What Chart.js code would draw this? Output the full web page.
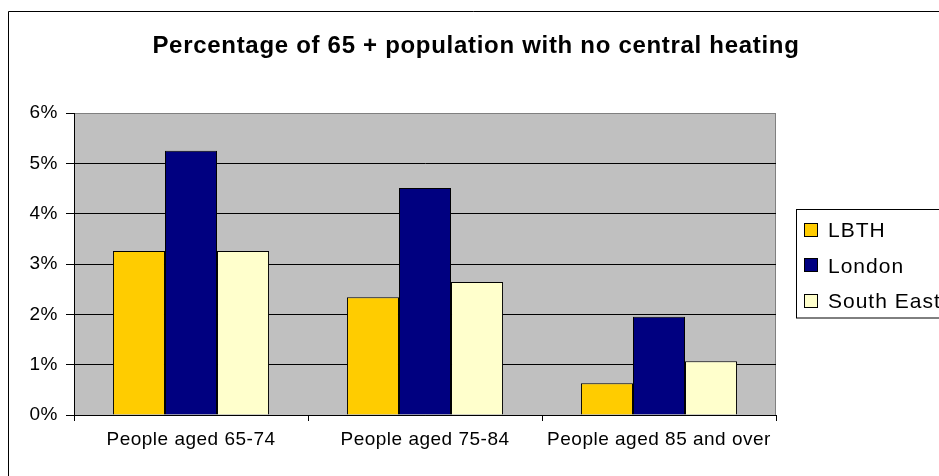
<!DOCTYPE html>
<html>
<head>
<meta charset="utf-8">
<script src="https://cdn.jsdelivr.net/npm/chart.js@4.4.0/dist/chart.umd.min.js"></script>
<style>
body { margin: 0; background: #fff; }
canvas { display: block; }
</style>
</head>
<body>
<canvas id="myChart" width="939" height="476"></canvas>
<script>
const chartTitle = 'Percentage of 65 + population with no central heating';
const categories = ['People aged 65-74', 'People aged 75-84', 'People aged 85 and over'];
const lbth = [3.26, 2.34, 0.63];
const london = [5.25, 4.51, 1.95];
const southEast = [3.26, 2.64, 1.07];
const seriesNames = ['LBTH', 'London', 'South East'];
const seriesColors = ['#FFCC00', '#000080', '#FFFFCC'];

// background, outer frame and grey plot area
const framePlugin = {
    id: 'frame',
    beforeDraw(chart) {
        const ctx = chart.ctx;
        const a = chart.chartArea;
        ctx.fillStyle = '#fff';
        ctx.fillRect(0, 0, chart.width, chart.height);
        ctx.strokeStyle = '#000';
        ctx.lineWidth = 1;
        ctx.beginPath();
        ctx.moveTo(8.5, chart.height);
        ctx.lineTo(8.5, 11.5);
        ctx.lineTo(chart.width, 11.5);
        ctx.stroke();
        ctx.fillStyle = '#C0C0C0';
        ctx.fillRect(a.left, a.top, a.right - a.left, a.bottom - a.top);
        ctx.strokeStyle = '#808080';
        ctx.strokeRect(a.left + 0.5, a.top + 0.5, a.right - a.left - 1, a.bottom - a.top);
        ctx.letterSpacing = '0.5px';
    },
    afterDraw(chart) {
        const ctx = chart.ctx;
        ctx.save();
        // title
        ctx.letterSpacing = '0.7px';
        ctx.fillStyle = '#000';
        ctx.font = 'bold 24px Arial, "Liberation Sans"';
        ctx.textAlign = 'center';
        ctx.textBaseline = 'alphabetic';
        ctx.fillText(chartTitle, 476, 53);
        // legend
        ctx.letterSpacing = '1px';
        ctx.strokeStyle = '#000';
        ctx.lineWidth = 1;
        ctx.strokeRect(796.5, 209.5, 200, 108.5);
        ctx.font = '21px Arial, "Liberation Sans"';
        ctx.textAlign = 'left';
        const ys = [229.5, 265, 300.5];
        chart.data.datasets.forEach((ds, i) => {
            const y = ys[i];
            ctx.fillStyle = ds.backgroundColor;
            ctx.fillRect(804, Math.round(y - 7), 14, 14);
            ctx.strokeRect(804.5, Math.round(y - 7) + 0.5, 13, 13);
            ctx.fillStyle = '#000';
            ctx.fillText(ds.label, 828, y + 7.5);
        });
        ctx.restore();
    }
};

function myLoadFunction()
{
const ctx = document.getElementById('myChart').getContext('2d');
const myChart = new Chart(ctx, {
    type: 'bar',
    data: {
        labels: categories,
        datasets: [
            { label: seriesNames[0], data: lbth, backgroundColor: seriesColors[0] },
            { label: seriesNames[1], data: london, backgroundColor: seriesColors[1] },
            { label: seriesNames[2], data: southEast, backgroundColor: seriesColors[2] }
        ].map(d => Object.assign(d, {
            borderColor: '#000',
            borderWidth: 1,
            categoryPercentage: 0.667,
            barPercentage: 1
        }))
    },
    options: {
        responsive: false,
        animation: false,
        layout: { padding: { top: 113, right: 163, left: 0, bottom: 0 } },
        plugins: {
            legend: { display: false },
            title: { display: false },
            tooltip: { enabled: false }
        },
        scales: {
            x: {
                afterFit(scale) { scale.height = 61; },
                grid: { offset: true, drawOnChartArea: false, drawTicks: true, tickLength: 6, color: '#000' },
                border: { display: true, color: '#000' },
                ticks: {
                    color: '#000',
                    font: { family: 'Arial, "Liberation Sans"', size: 19 },
                    maxRotation: 0,
                    autoSkip: false,
                    padding: 7
                }
            },
            y: {
                min: 0,
                max: 6,
                afterFit(scale) { scale.width = 74; },
                grid: {
                    color: c => (c.tick && c.tick.value === 6) ? '#808080' : '#000',
                    tickColor: '#000',
                    tickLength: 8
                },
                border: { display: true, color: '#000' },
                ticks: {
                    stepSize: 1,
                    color: '#000',
                    font: { family: 'Arial, "Liberation Sans"', size: 19 },
                    padding: 8,
                    callback: v => v + '%'
                }
            }
        }
    },
    plugins: [framePlugin]
});
}
document.addEventListener('DOMContentLoaded', myLoadFunction);
</script>
</body>
</html>
